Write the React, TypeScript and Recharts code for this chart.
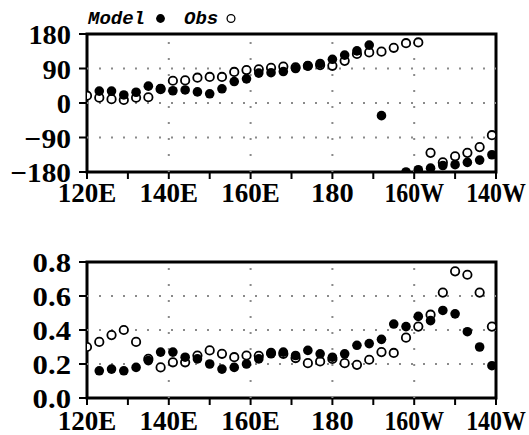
import * as React from 'react';
import { ScatterChart, Scatter, XAxis, YAxis, ReferenceLine, usePlotArea } from 'recharts';

// longitude of each grid point (degrees east)
const lons = [
  120, 123, 126, 129, 132, 135, 138, 141, 144, 147, 150, 153, 156, 159, 162, 165, 168,
  171, 174, 177, 180, 183, 186, 189, 192, 195, 198, 201, 204, 207, 210, 213, 216, 219,
];

// upper panel (phase, degrees)
const phaseModel = [
  null, 31, 31, 21, 28, 44, 38, 32, 34, 29, 24, 37, 56, 63, 78, 79, 82,
  90, 97, 103, 114, 125, 136, 151, -33, null, -180, -174, -170, -163, -161, -155, -149, -135,
];
const phaseObs = [
  19, 14, 10, 8, 14, 15, 36, 58, 59, 66, 68, 68, 81, 86, 88, 92, 95,
  93, 97, 99, 97, 110, 128, 132, 134, 144, 156, 158, -130, -155, -139, -130, -115, -84,
];

// lower panel (amplitude)
const ampModel = [
  null, 0.16, 0.17, 0.16, 0.18, 0.22, 0.27, 0.27, 0.24, 0.23, 0.2, 0.17, 0.18, 0.2, 0.23, 0.26, 0.27,
  0.25, 0.28, 0.26, 0.24, 0.26, 0.31, 0.32, 0.345, 0.435, 0.42, 0.48, 0.455, 0.515, 0.495, 0.39, 0.3, 0.19,
];
const ampObs = [
  0.3, 0.33, 0.37, 0.4, 0.33, 0.23, 0.18, 0.21, 0.21, 0.25, 0.28, 0.26, 0.24, 0.25, 0.248, 0.265, 0.26,
  0.235, 0.205, 0.215, 0.23, 0.205, 0.195, 0.225, 0.27, 0.265, 0.355, 0.42, 0.49, 0.62, 0.745, 0.725, 0.62, 0.42,
];

const lonTicks = [120, 130, 140, 150, 160, 170, 180, 190, 200, 210, 220];
const lonLabels: Record<number, string> = {
  120: '120E',
  140: '140E',
  160: '160E',
  180: '180',
  200: '160W',
  220: '140W',
};
const phaseTicks = [-180, -90, 0, 90, 180];
const ampTicks = [0, 0.2, 0.4, 0.6, 0.8];

const W = 529;
const H = 435;
const labelStyle: React.CSSProperties = {
  fontFamily: 'Liberation Serif, DejaVu Serif, serif',
  fontWeight: 700,
  fontSize: 28,
};
const gridStyle = { stroke: '#8a8a8a', strokeWidth: 2 };

// approximate advance of each glyph in the original plot font, so labels keep its widths
const glyphWidth: Record<string, number> = { E: 16, W: 17, '.': 10, '\u2212': 18 };
function labelWidth(s: string) {
  return s.split('').reduce((sum, c) => sum + (glyphWidth[c] ?? 14.2), 0);
}

function toPoints(values: (number | null)[]) {
  return lons
    .map((x, i) => ({ x, y: values[i] }))
    .filter((p) => p.y != null);
}

const FilledDot = (props: any) => <circle cx={props.cx} cy={props.cy} r={4.8} fill="#000" />;
const OpenDot = (props: any) => (
  <circle cx={props.cx} cy={props.cy} r={4.2} fill="#fff" stroke="#000" strokeWidth={1.8} />
);

function XTick(props: any) {
  const { x, y, payload } = props;
  const label = lonLabels[payload.value] ?? '';
  if (!label) return null;
  return (
    <text
      x={x}
      y={y + 20}
      textAnchor="middle"
      style={labelStyle}
      fill="#000"
      textLength={labelWidth(label)}
      lengthAdjust="spacingAndGlyphs"
    >
      {label}
    </text>
  );
}

function makeYTick(format: (v: number) => string) {
  return (props: any) => {
    const { x, y, payload } = props;
    const label = format(payload.value);
    return (
      <text
        x={x}
        y={y + 10}
        textAnchor="end"
        style={labelStyle}
        fill="#000"
        textLength={labelWidth(label)}
        lengthAdjust="spacingAndGlyphs"
      >
        {label}
      </text>
    );
  };
}
const PhaseTick = makeYTick((v) => (v < 0 ? '\u2212' + Math.abs(v) : String(v)));
const AmpTick = makeYTick((v) => v.toFixed(1));

function Frame() {
  const plot = usePlotArea();
  if (!plot) return null;
  return (
    <rect x={plot.x} y={plot.y} width={plot.width} height={plot.height} fill="none" stroke="#000" strokeWidth={3} />
  );
}

function Legend() {
  const style: React.CSSProperties = {
    fontFamily: 'Liberation Mono, DejaVu Sans Mono, monospace',
    fontSize: 19,
    fontWeight: 700,
    fontStyle: 'italic',
  };
  return (
    <g>
      <text x={88} y={23.5} style={style} fill="#000">
        Model
      </text>
      <circle cx={160.5} cy={18.5} r={4.4} fill="#000" />
      <text x={184} y={23.5} style={style} fill="#000">
        Obs
      </text>
      <circle cx={231} cy={18.5} r={3.9} fill="none" stroke="#000" strokeWidth={1.3} />
    </g>
  );
}

export default function App() {
  return (
    <div style={{ position: 'absolute', left: 0, top: 0, width: W, height: H, background: '#fff' }}>
      <div style={{ position: 'absolute', left: 0, top: 0 }}>
        <ScatterChart width={W} height={215} margin={{ top: 34, right: 33, bottom: 0, left: 0 }}>
          <XAxis
            type="number"
            dataKey="x"
            domain={[120, 220]}
            allowDataOverflow
            ticks={lonTicks}
            interval={0}
            height={43}
            axisLine={false}
            tickSize={7}
            tickMargin={3}
            tickLine={{ stroke: '#000', strokeWidth: 2 }}
            tick={XTick}
          />
          <YAxis
            type="number"
            dataKey="y"
            domain={[-180, 180]}
            allowDataOverflow
            ticks={phaseTicks}
            interval={0}
            width={87}
            axisLine={false}
            tickSize={8}
            tickMargin={8}
            tickLine={{ stroke: '#000', strokeWidth: 2 }}
            tick={PhaseTick}
          />
          {[140, 160, 180, 200].map((v) => (
            <ReferenceLine key={'vx' + v} x={v} {...gridStyle} strokeDasharray="2 14" />
          ))}
          {[-90, 0, 90].map((v) => (
            <ReferenceLine key={'hy' + v} y={v} {...gridStyle} strokeDasharray="2 10" />
          ))}
          <Scatter data={toPoints(phaseObs)} shape={OpenDot} isAnimationActive={false} />
          <Scatter data={toPoints(phaseModel)} shape={FilledDot} isAnimationActive={false} />
          <Frame />
          <Legend />
        </ScatterChart>
      </div>
      <div style={{ position: 'absolute', left: 0, top: 228 }}>
        <ScatterChart width={W} height={207} margin={{ top: 34, right: 33, bottom: 0, left: 0 }}>
          <XAxis
            type="number"
            dataKey="x"
            domain={[120, 220]}
            allowDataOverflow
            ticks={lonTicks}
            interval={0}
            height={37}
            axisLine={false}
            tickSize={7}
            tickMargin={5}
            tickLine={{ stroke: '#000', strokeWidth: 2 }}
            tick={XTick}
          />
          <YAxis
            type="number"
            dataKey="y"
            domain={[0, 0.8]}
            allowDataOverflow
            ticks={ampTicks}
            interval={0}
            width={87}
            axisLine={false}
            tickSize={8}
            tickMargin={8}
            tickLine={{ stroke: '#000', strokeWidth: 2 }}
            tick={AmpTick}
          />
          {[140, 160, 180, 200].map((v) => (
            <ReferenceLine key={'vx' + v} x={v} {...gridStyle} strokeDasharray="2 14" />
          ))}
          {[0.2, 0.4, 0.6].map((v) => (
            <ReferenceLine key={'hy' + v} y={v} {...gridStyle} strokeDasharray="2 10" />
          ))}
          <Scatter data={toPoints(ampObs)} shape={OpenDot} isAnimationActive={false} />
          <Scatter data={toPoints(ampModel)} shape={FilledDot} isAnimationActive={false} />
          <Frame />
        </ScatterChart>
      </div>
    </div>
  );
}
